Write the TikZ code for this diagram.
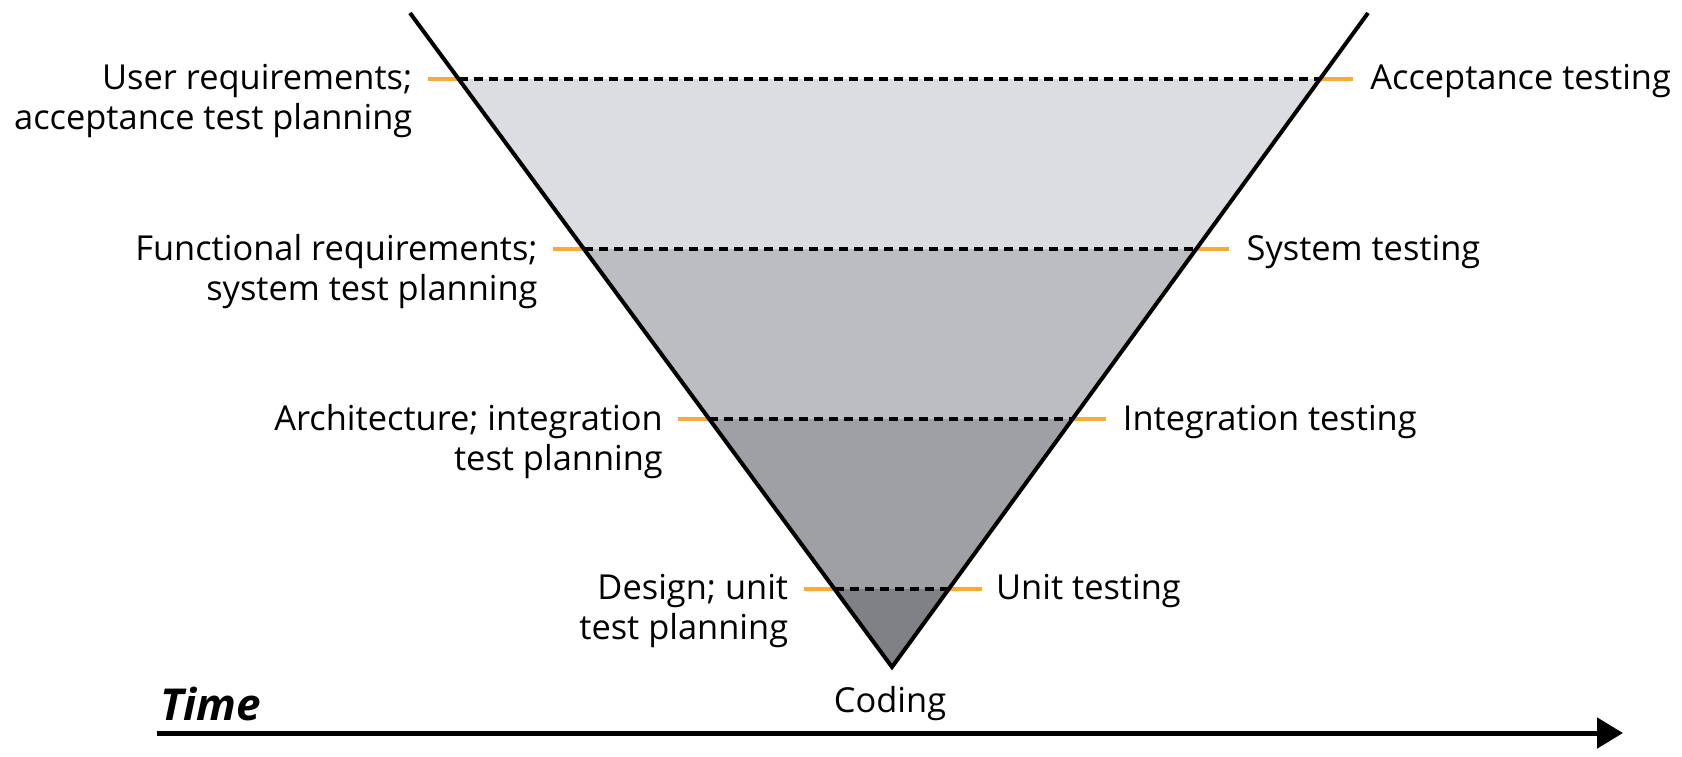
\documentclass[tikz,border=0pt]{standalone}
\usepackage{fontspec}
\setmainfont{Open Sans}
\usetikzlibrary{arrows.meta,calc}
\definecolor{bandA}{RGB}{220,221,224}
\definecolor{bandB}{RGB}{188,189,193}
\definecolor{bandC}{RGB}{159,160,164}
\definecolor{bandD}{RGB}{128,129,133}
\definecolor{tickorange}{RGB}{248,170,58}
\begin{document}
\begin{tikzpicture}[x=0.5pt,y=-0.5pt,
  vline/.style={line width=2pt,black,line join=miter},
  level/.style={line width=2pt,black,dash pattern=on 4.5pt off 3pt},
  tick/.style={line width=1.6pt,tickorange},
  lbl/.style={font=\fontsize{17.2}{20}\selectfont,inner sep=0pt,align=right,anchor=base east},
  rlbl/.style={font=\fontsize{17.2}{20}\selectfont,inner sep=0pt,anchor=base west},
  timelbl/.style={font=\fontsize{22}{26}\selectfont\bfseries\itshape,inner sep=0pt,anchor=base west},
  timearrow/.style={line width=2.5pt,black,-{Triangle[length=13pt,width=15pt]}}]
\useasboundingbox (0,0) rectangle (1682,756);
\coordinate (LT) at (410,13);
\coordinate (RT) at (1368,13);
\coordinate (V) at (892,667);
\foreach \n/\t in {1/0.1009,2/0.3609,3/0.6208,4/0.8807}{
  \coordinate (L\n) at ($(LT)!\t!(V)$);
  \coordinate (R\n) at ($(RT)!\t!(V)$);
  \coordinate (LO\n) at ($(L\n)+(-31,0)$);
  \coordinate (RO\n) at ($(R\n)+(33,0)$);
}
% bands
\fill[bandA] (L1) -- (R1) -- (R2) -- (L2) -- cycle;
\fill[bandB] (L2) -- (R2) -- (R3) -- (L3) -- cycle;
\fill[bandC] (L3) -- (R3) -- (R4) -- (L4) -- cycle;
\fill[bandD] (L4) -- (R4) -- (V) -- cycle;
% levels and ticks
\foreach \n in {1,...,4}{
  \draw[level] (L\n) -- (R\n);
  \draw[tick] (LO\n) -- (L\n);
  \draw[tick] (R\n) -- (RO\n);
}
% V
\draw[vline] (LT) -- (V) -- (RT);
% left labels (base = last line)
\node[lbl] (ur) at ($(LO1)+(-15,51)$) {User requirements;\\acceptance test planning};
\node[lbl] (fr) at ($(LO2)+(-15,51)$) {Functional requirements;\\system test planning};
\node[lbl] (ar) at ($(LO3)+(-15,51)$) {Architecture; integration\\test planning};
\node[lbl] (de) at ($(LO4)+(-15,51)$) {Design; unit\\test planning};
% right labels
\node[rlbl] (at) at ($(RO1)+(17,11)$) {Acceptance testing};
\node[rlbl] (st) at ($(RO2)+(17,11)$) {System testing};
\node[rlbl] (it) at ($(RO3)+(17,11)$) {Integration testing};
\node[rlbl] (ut) at ($(RO4)+(14,11)$) {Unit testing};
% coding
\node[rlbl,anchor=base] (coding) at ($(V)+(-2,45)$) {Coding};
% time
\node[timelbl] (time) at (160,720) {Time};
\coordinate (tstart) at (157,733);
\coordinate (tend) at (1623,733);
\draw[timearrow] (tstart) -- (tend);
\end{tikzpicture}
\end{document}
